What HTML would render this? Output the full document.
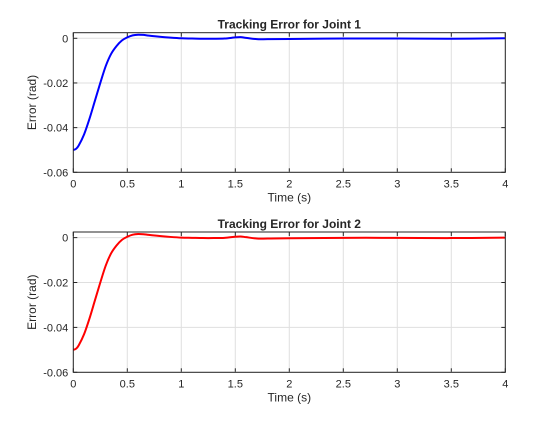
<!DOCTYPE html>
<html><head><meta charset="utf-8"><style>
body{margin:0;background:#fff}
svg text{font-family:"Liberation Sans",sans-serif;fill:#262626}
</style></head><body>
<svg id="c" width="560" height="420"></svg>
<script>
const times=[0,0.025,0.05,0.1,0.15,0.2,0.25,0.3,0.35,0.4,0.45,0.5,0.55,0.6,0.65,0.7,0.8,0.9,1,1.1,1.2,1.3,1.4,1.5,1.55,1.6,1.7,1.8,2,2.5,3,3.5,4];
const joint1=[-0.05,-0.0495,-0.048,-0.043,-0.036,-0.028,-0.020,-0.0125,-0.007,-0.0035,-0.001,0.0004,0.0013,0.0016,0.0015,0.0012,0.0007,0.0003,0,-0.0001,-0.0002,-0.0002,-0.0001,0.0004,0.0005,0.0002,-0.0004,-0.0004,-0.0003,-0.0001,-0.0001,-0.0002,0];
const joint2=[-0.05,-0.0495,-0.048,-0.043,-0.036,-0.028,-0.020,-0.0125,-0.007,-0.0035,-0.001,0.0004,0.0013,0.0016,0.0015,0.0012,0.0007,0.0003,0,-0.0001,-0.0002,-0.0002,-0.0001,0.0004,0.0005,0.0002,-0.0004,-0.0004,-0.0003,-0.0001,-0.0001,-0.0002,0];
const xTicks=[0,0.5,1,1.5,2,2.5,3,3.5,4];
const xTickLabels=["0","0.5","1","1.5","2","2.5","3","3.5","4"];
const yTicks=[-0.06,-0.04,-0.02,0];
const yTickLabels=["-0.06","-0.04","-0.02","0"];
const svg=document.getElementById('c');const NS='http://www.w3.org/2000/svg';
function mk(t,a,p){const e=document.createElementNS(NS,t);for(const k in a)e.setAttribute(k,a[k]);(p||svg).appendChild(e);return e;}
function panel(top,bottom,data,color,title,idx){
  const L=73.3,R=505.3,yMin=-0.06,yMax=0.0025;
  const X=v=>L+v/4*(R-L), Y=v=>bottom-(v-yMin)/(yMax-yMin)*(bottom-top);
  const g=mk('g',{});
  mk('rect',{x:L,y:top,width:R-L,height:bottom-top,fill:'#fff'},g);
  xTicks.forEach((t,i)=>{
    const l=mk('line',{x1:X(t),x2:X(t),y1:top,y2:bottom,stroke:'#dfdfdf','stroke-width':1},g);
    
    mk('line',{x1:X(t),x2:X(t),y1:bottom,y2:bottom-4,stroke:'#262626'},g);
    mk('line',{x1:X(t),x2:X(t),y1:top,y2:top+4,stroke:'#262626'},g);
    const tx=mk('text',{x:X(t),y:bottom+15,'text-anchor':'middle','font-size':11},g);tx.textContent=xTickLabels[i];
    
  });
  yTicks.forEach((t,i)=>{
    const l=mk('line',{x1:L,x2:R,y1:Y(t),y2:Y(t),stroke:'#dfdfdf'},g);
    
    mk('line',{x1:L,x2:L+4,y1:Y(t),y2:Y(t),stroke:'#262626'},g);
    mk('line',{x1:R,x2:R-4,y1:Y(t),y2:Y(t),stroke:'#262626'},g);
    const tx=mk('text',{x:L-5,y:Y(t)+4,'text-anchor':'end','font-size':11},g);tx.textContent=yTickLabels[i];
    
  });
  const pts=times.map((t,i)=>[X(t),Y(data[i])]);
  let d='M'+pts[0][0]+','+pts[0][1];
  for(let i=0;i<pts.length-1;i++){const p0=pts[Math.max(0,i-1)],p1=pts[i],p2=pts[i+1],p3=pts[Math.min(pts.length-1,i+2)];
    d+=` C${p1[0]+(p2[0]-p0[0])/6},${p1[1]+(p2[1]-p0[1])/6} ${p2[0]-(p3[0]-p1[0])/6},${p2[1]-(p3[1]-p1[1])/6} ${p2[0]},${p2[1]}`;}
  const ln=mk('path',{d:d,fill:'none',stroke:color,'stroke-width':2},g);
  
  mk('rect',{x:L,y:top,width:R-L,height:bottom-top,fill:'none',stroke:'#262626','stroke-width':1},g);
  const ti=mk('text',{x:(L+R)/2,y:top-4,'text-anchor':'middle','font-size':12,'font-weight':'bold'},g);ti.textContent=title;
  
  const xl=mk('text',{x:(L+R)/2,y:bottom+29,'text-anchor':'middle','font-size':12},g);xl.textContent='Time (s)';
  
  const yl=mk('text',{x:0,y:0,'text-anchor':'middle','font-size':12,transform:`translate(36,${(top+bottom)/2}) rotate(-90)`},g);yl.textContent='Error (rad)';
  
}
panel(32.7,172.3,joint1,'#0000ff','Tracking Error for Joint 1',1);
panel(232,372.3,joint2,'#ff0000','Tracking Error for Joint 2',2);
</script>
</body></html>
